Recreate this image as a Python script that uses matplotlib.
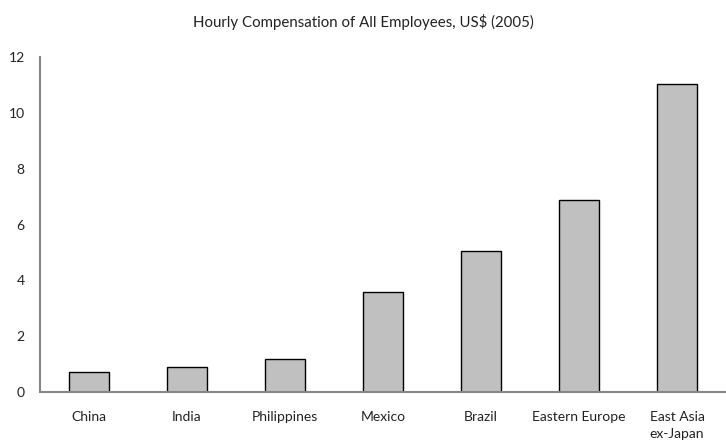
import matplotlib
matplotlib.use("Agg")
import matplotlib.pyplot as plt

plt.rcParams['font.family'] = ['Lato', 'DejaVu Sans']

categories = ["China", "India", "Philippines", "Mexico", "Brazil", "Eastern Europe", "East Asia\nex-Japan"]
values = [0.73, 0.88, 1.18, 3.6, 5.05, 6.86, 11.03]
yticks = [0, 2, 4, 6, 8, 10, 12]
title = "Hourly Compensation of All Employees, US$ (2005)"

fig = plt.figure(figsize=(7.26, 4.45), dpi=100)
ax = fig.add_axes([40/726, 53/445, 1 - 40/726, 335/445])
x = list(range(len(categories)))
ax.bar(x, values, width=0.41, color="#c0c0c0", edgecolor="black", linewidth=1.0)
ax.set_xlim(-0.5, len(categories) - 0.5)
ax.set_ylim(0, 12)
ax.set_yticks(yticks)
ax.set_yticklabels([str(t) for t in yticks])
ax.set_xticks(x)
ax.set_xticklabels(categories, linespacing=1.45, va='top')
ax.tick_params(axis='both', length=0, labelsize=10, colors='#222222')
ax.tick_params(axis='x', pad=14)
ax.tick_params(axis='y', pad=11)
for s in ['top', 'right']:
    ax.spines[s].set_visible(False)
for s in ['left', 'bottom']:
    ax.spines[s].set_color('#868686')
    ax.spines[s].set_linewidth(1.5)
fig.text(0.5, 1 - 22/445, title, ha='center', va='center', fontsize=10.8, color='#222222')
fig.savefig("out.png", dpi=100)
